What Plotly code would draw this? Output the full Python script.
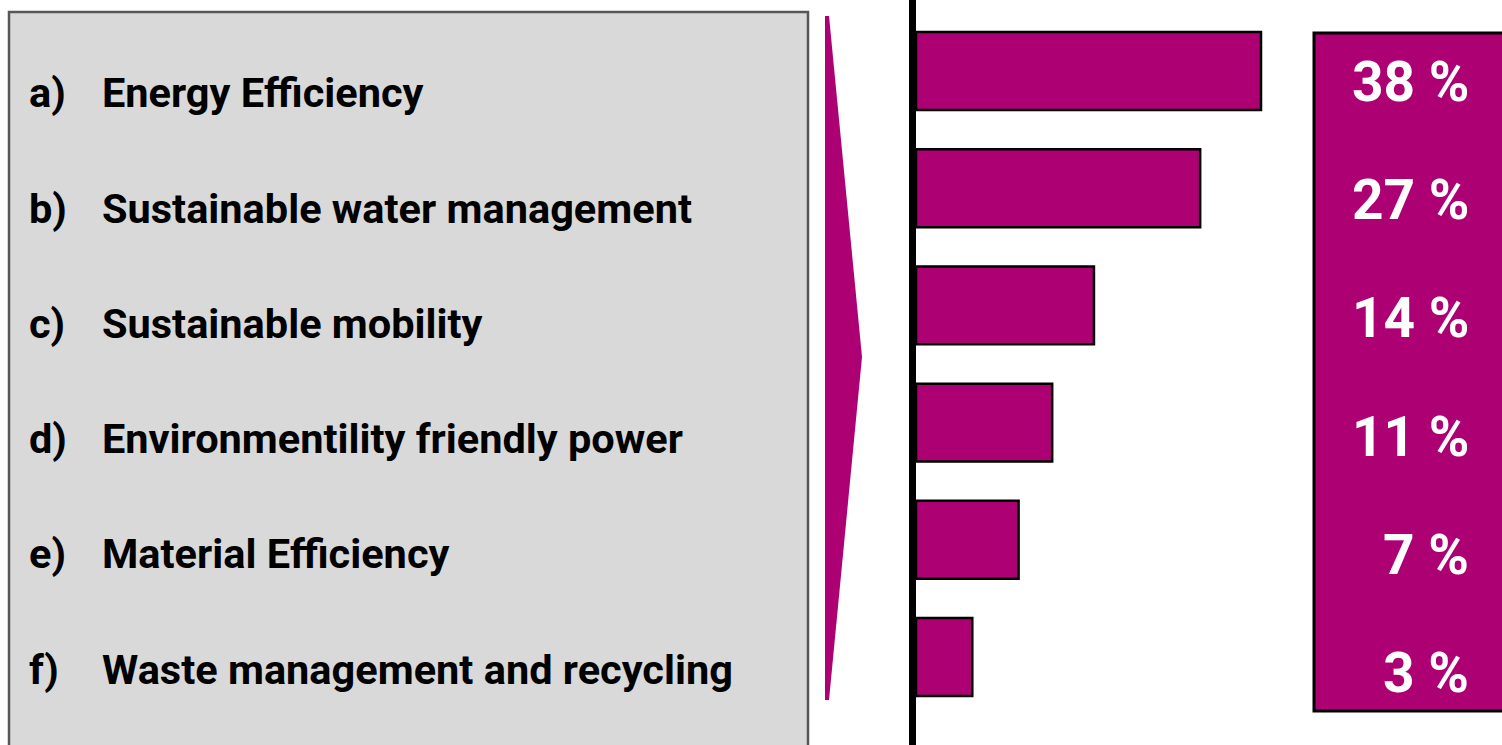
import plotly.graph_objects as go

W, H = 1502, 745

letters = ["a)", "b)", "c)", "d)", "e)", "f)"]
categories = [
    "Energy Efficiency",
    "Sustainable water management",
    "Sustainable mobility",
    "Environmentility friendly power",
    "Material Efficiency",
    "Waste management and recycling",
]
bar_lengths = [38, 31.3, 19.6, 15.0, 11.3, 6.2]
share_labels = ["38 %", "27 %", "14 %", "11 %", "7 %", "3 %"]

MAGENTA = "#AC0073"
FONT = "Roboto, Liberation Sans, Arial, sans-serif"


def px(x):
    return x / W


def py(y):
    return 1 - y / H


fig = go.Figure()
fig.add_trace(go.Bar(
    x=bar_lengths,
    y=categories,
    orientation="h",
    width=0.665,
    marker=dict(color=MAGENTA, line=dict(color="black", width=2.5)),
    hovertemplate="%{y}: %{x}<extra></extra>",
))

shapes = [
    dict(type="rect", xref="paper", yref="paper",
         x0=px(9), x1=px(808), y0=py(770), y1=py(12),
         fillcolor="#D9D9D9", line=dict(color="#575757", width=2.5), layer="below"),
    dict(type="path", xref="paper", yref="paper",
         path=(f"M {px(825)},{py(16)} L {px(829)},{py(16)} L {px(862)},{py(357)} "
               f"L {px(829)},{py(700)} L {px(825)},{py(700)} Z"),
         fillcolor=MAGENTA, line=dict(width=0), layer="below"),
    dict(type="rect", xref="paper", yref="paper",
         x0=px(1314), x1=px(1520), y0=py(711), y1=py(33),
         fillcolor=MAGENTA, line=dict(color="black", width=3), layer="below"),
]

annotations = []
for i, (let, cat) in enumerate(zip(letters, categories)):
    base = 108 + 115.2 * i
    yc = base - 15
    annotations.append(dict(text=f"<b>{let}</b>", xref="paper", yref="paper",
                            x=px(27), y=py(yc), xanchor="left", yanchor="middle",
                            showarrow=False, font=dict(family=FONT, size=41.5, color="black")))
    annotations.append(dict(text=f"<b>{cat}</b>", xref="paper", yref="paper",
                            x=px(100), y=py(yc), xanchor="left", yanchor="middle",
                            showarrow=False, font=dict(family=FONT, size=41.5, color="black")))

for i, lab in enumerate(share_labels):
    base = 102 + 118.2 * i
    yc = base - 20
    annotations.append(dict(text=f"<b>{lab}</b>", xref="paper", yref="paper",
                            x=px(1471), y=py(yc), xanchor="right", yanchor="middle",
                            showarrow=False, font=dict(family=FONT, size=55, color="white")))

fig.update_layout(
    width=W, height=H,
    margin=dict(l=0, r=0, t=0, b=0),
    paper_bgcolor="white", plot_bgcolor="rgba(0,0,0,0)",
    showlegend=False,
    bargap=0.335,
    xaxis=dict(domain=[px(916), 1], range=[0, 586 * 38 / 345], visible=False, fixedrange=True),
    yaxis=dict(domain=[0, 1], range=[5.751, -0.606], showticklabels=False, showgrid=False,
               zeroline=False, showline=True, linecolor="black", linewidth=7, ticks="",
               fixedrange=True),
    shapes=shapes,
    annotations=annotations,
)

fig.write_html("out.html")
